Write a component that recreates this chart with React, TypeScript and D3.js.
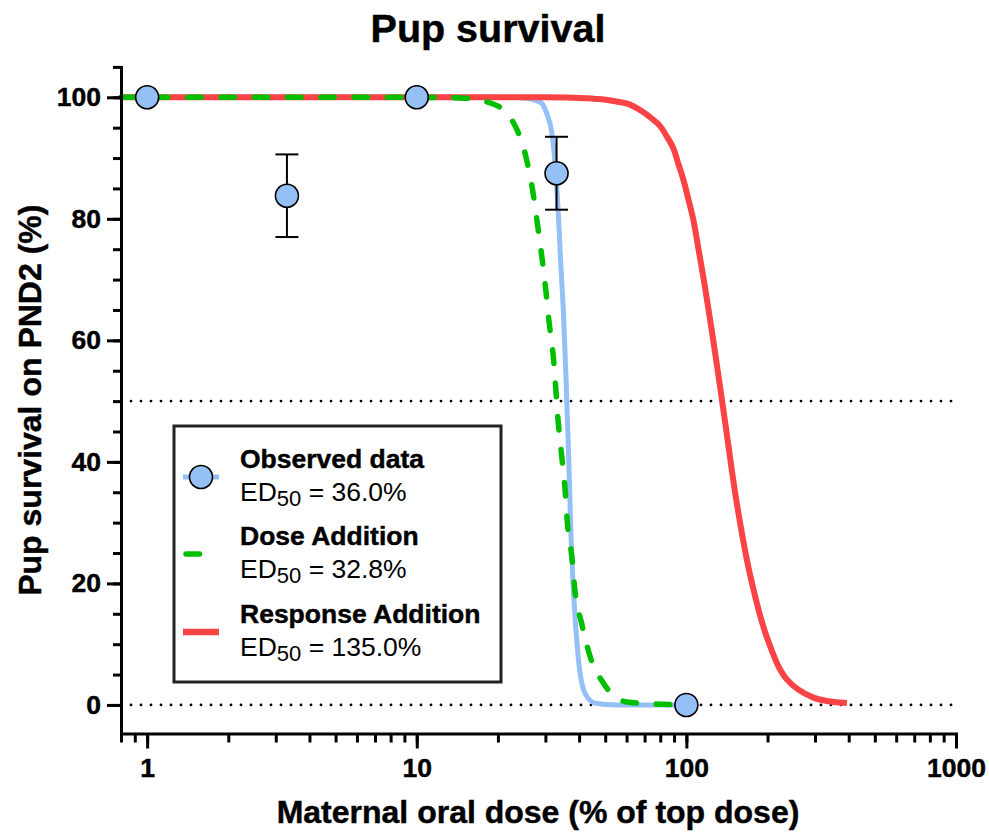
import React, { useEffect, useRef } from "react";
import * as d3 from "d3";

// observed means (+/- SEM)
const doses = [1, 3.3, 10, 33, 100];
const survival = [100, 83.8, 100, 87.5, 0];
const survivalSem = [0, 6.8, 0, 6.0, 0];

// fitted curves
const observedFitDose = [0.8, 10, 20, 25, 27.1, 29.1, 30.3, 31.7, 32.6, 33.5, 34.2, 35.0, 35.8, 36.0, 36.6, 37.2, 38.1, 39.7, 42.1, 45.8, 55, 100];
const observedFitPct = [100, 100, 100, 99.9, 99.6, 99.0, 97.4, 94.1, 89.1, 80.9, 72.7, 64.5, 53.5, 50, 40.9, 29.9, 18.9, 7.9, 1.9, 0.3, 0, 0];

const doseAddDose = [0.8, 10, 14.5, 19.2, 23.1, 25.4, 26.9, 28.0, 29.1, 30.1, 31.0, 32.1, 33.5, 34.5, 35.5, 36.2, 37.6, 38.6, 40.9, 44.0, 49.2, 60.1, 82.2, 100];
const doseAddPct = [100, 100, 99.9, 98.9, 95.4, 90.2, 84.7, 79.3, 73.8, 68.3, 62.8, 57.3, 46.4, 40.9, 35.4, 29.9, 24.4, 18.9, 13.4, 7.9, 3.6, 0.5, 0.1, 0];

const respAddDose = [0.8, 10, 30, 40, 47.8, 55, 61.8, 67.3, 73, 79.8, 84.5, 89.5, 93, 97.5, 101.5, 106.2, 110.5, 115.6, 120.5, 126, 135.3, 141.2, 153.8, 172.3, 198.6, 235.8, 296, 394];
const respAddPct = [100, 100, 100, 99.9, 99.7, 99.3, 98.8, 97.9, 96.8, 95.3, 93.6, 91.6, 89.3, 86.4, 83.4, 79.8, 75.4, 70.4, 65.4, 59.8, 50.4, 44.6, 33.2, 21.4, 11.2, 4.2, 1.2, 0.3];

const xMajorTicks = [1, 10, 100, 1000];
const yMajorTicks = [0, 20, 40, 60, 80, 100];
const refLines = [50, 0];

const legendNames = ["Observed data", "Dose Addition", "Response Addition"];
const legendEd50 = ["36.0%", "32.8%", "135.0%"];

const BLUE = "#94c0f6";
const GREEN = "#00bf00";
const RED = "#fa4345";
const FONT = "'Liberation Sans', Arial, Helvetica, sans-serif";

const App = () => {
  const ref = useRef<SVGSVGElement>(null);

  useEffect(() => {
    const svg = d3.select(ref.current);
    svg.selectAll("*").remove();

    const x = d3.scaleLog().domain([0.8, 1000]).range([121, 956]);
    const y = d3.scaleLinear().domain([-4.7, 105]).range([733.5, 66.9]);

    const bold = (sel: any, size: number) =>
      sel
        .style("font", `bold ${size}px ${FONT}`)
        .attr("fill", "#000")
        .attr("stroke", "#000")
        .attr("stroke-width", 0.45);

    // title
    svg
      .append("text")
      .attr("x", 488)
      .attr("y", 42)
      .attr("text-anchor", "middle")
      .text("Pup survival")
      .call(bold, 39.5);

    // dotted reference lines
    svg
      .append("g")
      .selectAll("line")
      .data(refLines)
      .enter()
      .append("line")
      .attr("x1", 131)
      .attr("x2", 956)
      .attr("y1", (d) => y(d))
      .attr("y2", (d) => y(d))
      .attr("stroke", "#000")
      .attr("stroke-width", 2.8)
      .attr("stroke-linecap", "round")
      .attr("stroke-dasharray", "0 10");

    const drawCurve = (ds: number[], ps: number[], color: string, w: number, curve: any) =>
      svg
        .append("path")
        .attr(
          "d",
          d3
            .line<number>()
            .x((d) => x(d))
            .y((_, i) => y(ps[i]))
            .curve(curve)(ds)
        )
        .attr("fill", "none")
        .attr("stroke", color)
        .attr("stroke-width", w);

    drawCurve(observedFitDose, observedFitPct, BLUE, 5, d3.curveMonotoneX);
    drawCurve(respAddDose, respAddPct, RED, 6, d3.curveCatmullRom.alpha(0.5));
    drawCurve(doseAddDose, doseAddPct, GREEN, 5.5, d3.curveMonotoneX)
      .attr("stroke-linecap", "round")
      .attr("stroke-dasharray", "13.5 19.8");

    // error bars
    const eb = svg
      .append("g")
      .selectAll("g")
      .data(doses.map((d, i) => i).filter((i) => survivalSem[i] > 0))
      .enter()
      .append("g")
      .attr("stroke", "#000")
      .attr("stroke-width", 2);
    eb.append("line")
      .attr("x1", (i) => x(doses[i]))
      .attr("x2", (i) => x(doses[i]))
      .attr("y1", (i) => y(survival[i] + survivalSem[i]))
      .attr("y2", (i) => y(survival[i] - survivalSem[i]));
    [1, -1].forEach((s) =>
      eb
        .append("line")
        .attr("x1", (i) => x(doses[i]) - 11.5)
        .attr("x2", (i) => x(doses[i]) + 11.5)
        .attr("y1", (i) => y(survival[i] + s * survivalSem[i]))
        .attr("y2", (i) => y(survival[i] + s * survivalSem[i]))
    );

    // points
    svg
      .append("g")
      .selectAll("circle")
      .data(doses)
      .enter()
      .append("circle")
      .attr("cx", (d) => x(d))
      .attr("cy", (d, i) => y(survival[i]))
      .attr("r", 11.5)
      .attr("fill", BLUE)
      .attr("stroke", "#000")
      .attr("stroke-width", 1.6);

    // axes
    const styleAxis = (g: any) => {
      g.select(".domain").attr("stroke-width", 3).attr("stroke-linecap", "square");
      g.selectAll(".tick line").attr("stroke-width", 3);
      g.selectAll(".tick text").call(bold, 26.5);
    };

    svg
      .append("g")
      .attr("transform", `translate(0,${y(-4.7)})`)
      .call(d3.axisBottom(x).tickValues(x.ticks()).tickSize(9).tickSizeOuter(0).tickFormat(() => ""))
      .call(styleAxis);
    svg
      .append("g")
      .attr("transform", `translate(0,${y(-4.7)})`)
      .call(d3.axisBottom(x).tickValues(xMajorTicks).tickSize(15).tickPadding(10).tickSizeOuter(0).tickFormat(d3.format("d")))
      .call(styleAxis)
      .call((g) => g.select(".domain").remove());

    svg
      .append("g")
      .attr("transform", `translate(${x(0.8)},0)`)
      .call(d3.axisLeft(y).tickValues(y.ticks(20)).tickSize(8).tickSizeOuter(0).tickFormat(() => ""))
      .call(styleAxis);
    svg
      .append("g")
      .attr("transform", `translate(${x(0.8)},0)`)
      .call(d3.axisLeft(y).tickValues(yMajorTicks).tickSize(14).tickPadding(6).tickSizeOuter(0))
      .call(styleAxis)
      .call((g) => g.select(".domain").remove());

    // axis titles
    svg
      .append("text")
      .attr("x", 538)
      .attr("y", 823)
      .attr("text-anchor", "middle")
      .text("Maternal oral dose (% of top dose)")
      .call(bold, 32);
    svg
      .append("text")
      .attr("transform", `translate(41,${(y(105) + y(-4.7)) / 2}) rotate(-90)`)
      .attr("text-anchor", "middle")
      .text("Pup survival on PND2 (%)")
      .call(bold, 32);

    // legend
    const lg = svg.append("g");
    lg.append("rect")
      .attr("x", 174)
      .attr("y", 426)
      .attr("width", 327)
      .attr("height", 256)
      .attr("fill", "#fff")
      .attr("stroke", "#222")
      .attr("stroke-width", 3);

    const rowY = [477, 554, 632];
    lg.append("line")
      .attr("x1", 183).attr("x2", 219)
      .attr("y1", rowY[0]).attr("y2", rowY[0])
      .attr("stroke", BLUE).attr("stroke-width", 5);
    lg.append("circle")
      .attr("cx", 201).attr("cy", rowY[0]).attr("r", 11.5)
      .attr("fill", BLUE).attr("stroke", "#000").attr("stroke-width", 1.6);
    lg.append("line")
      .attr("x1", 186).attr("x2", 219)
      .attr("y1", rowY[1]).attr("y2", rowY[1])
      .attr("stroke", GREEN).attr("stroke-width", 5.5)
      .attr("stroke-linecap", "round").attr("stroke-dasharray", "13.5 19.8");
    lg.append("line")
      .attr("x1", 183).attr("x2", 219)
      .attr("y1", rowY[2]).attr("y2", rowY[2])
      .attr("stroke", RED).attr("stroke-width", 6.5);

    legendNames.forEach((name, i) => {
      lg.append("text")
        .attr("x", 240)
        .attr("y", rowY[i] - 9)
        .text(name)
        .call(bold, 26.5);
      const t = lg
        .append("text")
        .attr("x", 240)
        .attr("y", rowY[i] + 24)
        .style("font", `26.5px ${FONT}`);
      t.append("tspan").text("ED");
      t.append("tspan").attr("dy", 5).style("font-size", "22px").text("50");
      t.append("tspan").attr("dy", -5).text(` = ${legendEd50[i]}`);
    });
  }, []);

  return (
    <svg
      ref={ref}
      width={989}
      height={832}
      style={{ position: "absolute", left: 0, top: 0, background: "#fff" }}
    />
  );
};

export default App;
